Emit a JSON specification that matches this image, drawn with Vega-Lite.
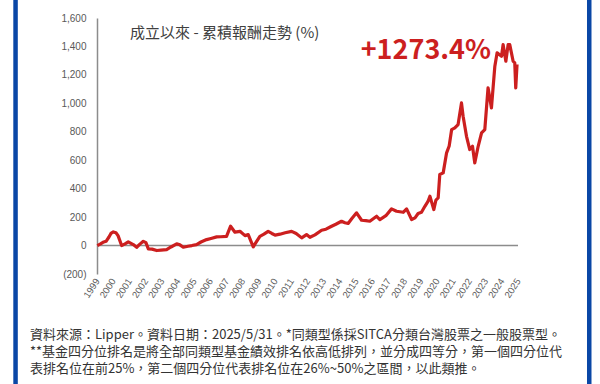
{
  "$schema": "https://vega.github.io/schema/vega-lite/v6.json",
  "width": 421,
  "height": 256,
  "autosize": "none",
  "padding": {"left": 97, "top": 18, "right": 82, "bottom": 110},
  "background": "white",
  "config": {"view": {"stroke": null}, "font": "Noto Sans CJK TC"},
  "datasets": {
    "fund": [
      {"t": 1999.02, "v": 0}, {"t": 1999.19, "v": 10}, {"t": 1999.37, "v": 23}, {"t": 1999.56, "v": 30},
      {"t": 1999.74, "v": 60}, {"t": 1999.86, "v": 85}, {"t": 2000.01, "v": 96}, {"t": 2000.17, "v": 90},
      {"t": 2000.30, "v": 70}, {"t": 2000.52, "v": 0}, {"t": 2000.73, "v": 12}, {"t": 2000.93, "v": 26},
      {"t": 2001.24, "v": 7}, {"t": 2001.45, "v": -12}, {"t": 2001.65, "v": 10}, {"t": 2001.86, "v": 30},
      {"t": 2002.02, "v": 20}, {"t": 2002.17, "v": -23}, {"t": 2002.40, "v": -25}, {"t": 2002.69, "v": -35},
      {"t": 2002.95, "v": -32}, {"t": 2003.30, "v": -28}, {"t": 2003.57, "v": -10}, {"t": 2003.92, "v": 12},
      {"t": 2004.12, "v": 5}, {"t": 2004.33, "v": -12}, {"t": 2004.62, "v": -5}, {"t": 2004.86, "v": 0},
      {"t": 2005.15, "v": 7}, {"t": 2005.42, "v": 25}, {"t": 2005.77, "v": 42}, {"t": 2006.04, "v": 50},
      {"t": 2006.39, "v": 61}, {"t": 2006.65, "v": 62}, {"t": 2007.00, "v": 65}, {"t": 2007.25, "v": 136},
      {"t": 2007.52, "v": 94}, {"t": 2007.83, "v": 100}, {"t": 2008.14, "v": 70}, {"t": 2008.34, "v": 77},
      {"t": 2008.51, "v": 30}, {"t": 2008.65, "v": -9}, {"t": 2008.81, "v": 20}, {"t": 2009.06, "v": 65},
      {"t": 2009.31, "v": 80}, {"t": 2009.57, "v": 100}, {"t": 2009.80, "v": 85}, {"t": 2010.00, "v": 73},
      {"t": 2010.30, "v": 80}, {"t": 2010.62, "v": 90}, {"t": 2011.02, "v": 100}, {"t": 2011.30, "v": 85},
      {"t": 2011.64, "v": 54}, {"t": 2011.94, "v": 77}, {"t": 2012.15, "v": 58}, {"t": 2012.46, "v": 75},
      {"t": 2012.87, "v": 108}, {"t": 2013.14, "v": 115}, {"t": 2013.49, "v": 136}, {"t": 2013.75, "v": 150},
      {"t": 2014.10, "v": 171}, {"t": 2014.31, "v": 160}, {"t": 2014.51, "v": 155}, {"t": 2014.74, "v": 190},
      {"t": 2015.03, "v": 230}, {"t": 2015.34, "v": 178}, {"t": 2015.60, "v": 175}, {"t": 2015.85, "v": 171},
      {"t": 2016.27, "v": 206}, {"t": 2016.47, "v": 183}, {"t": 2016.84, "v": 210}, {"t": 2017.19, "v": 258},
      {"t": 2017.50, "v": 241}, {"t": 2017.91, "v": 234}, {"t": 2018.12, "v": 258}, {"t": 2018.43, "v": 183},
      {"t": 2018.64, "v": 195}, {"t": 2018.83, "v": 225}, {"t": 2019.04, "v": 234}, {"t": 2019.25, "v": 276},
      {"t": 2019.44, "v": 310}, {"t": 2019.56, "v": 347}, {"t": 2019.68, "v": 300}, {"t": 2019.80, "v": 253},
      {"t": 2019.93, "v": 320}, {"t": 2020.07, "v": 335}, {"t": 2020.17, "v": 500}, {"t": 2020.38, "v": 511},
      {"t": 2020.59, "v": 652}, {"t": 2020.75, "v": 700}, {"t": 2020.90, "v": 815}, {"t": 2021.10, "v": 827},
      {"t": 2021.30, "v": 851}, {"t": 2021.51, "v": 1003}, {"t": 2021.61, "v": 909}, {"t": 2021.82, "v": 768},
      {"t": 2022.02, "v": 675}, {"t": 2022.19, "v": 698}, {"t": 2022.33, "v": 581}, {"t": 2022.54, "v": 698},
      {"t": 2022.75, "v": 792}, {"t": 2022.95, "v": 815}, {"t": 2023.15, "v": 1109}, {"t": 2023.36, "v": 968},
      {"t": 2023.57, "v": 1261}, {"t": 2023.71, "v": 1355}, {"t": 2023.98, "v": 1331}, {"t": 2024.08, "v": 1413},
      {"t": 2024.25, "v": 1296}, {"t": 2024.39, "v": 1413}, {"t": 2024.49, "v": 1413}, {"t": 2024.70, "v": 1296},
      {"t": 2024.80, "v": 1284}, {"t": 2024.86, "v": 1109}, {"t": 2024.94, "v": 1273.4}
    ],
    "notes": [
      {"t": 2001.04, "v": 1497, "label": "成立以來 - 累積報酬走勢 (%)", "kind": "title"},
      {"t": 2019.31, "v": 1371, "label": "+1273.4%", "kind": "total"},
      {"t": 1994.86, "v": -626, "label": "資料來源：Lipper。資料日期：2025/5/31。*同類型係採SITCA分類台灣股票之一般股票型。", "kind": "note"},
      {"t": 1994.86, "v": -745, "label": "**基金四分位排名是將全部同類型基金績效排名依高低排列，並分成四等分，第一個四分位代", "kind": "note"},
      {"t": 1994.86, "v": -865, "label": "表排名位在前25%，第二個四分位代表排名位在26%~50%之區間，以此類推。", "kind": "note"}
    ],
    "frame": [{"t": 1993.97, "v": 1727, "v2": -975}, {"t": 2029.4, "v": 1727, "v2": -975}],
    "zero": [{"t": 1999, "t2": 2025, "v": 0}]
  },
  "encoding": {
    "x": {
      "field": "t", "type": "quantitative",
      "scale": {"domain": [1999, 2025], "nice": false, "zero": false},
      "axis": {
        "title": null, "domain": false, "ticks": false, "grid": false,
        "values": [1999,2000,2001,2002,2003,2004,2005,2006,2007,2008,2009,2010,2011,2012,2013,2014,2015,2016,2017,2018,2019,2020,2021,2022,2023,2024,2025],
        "labelExpr": "'' + datum.value",
        "labelAngle": -57, "labelAlign": "right", "labelBaseline": "middle",
        "labelFontSize": 9.5, "labelColor": "#595959", "labelFont": "Liberation Sans",
        "labelPadding": 5, "labelOverlap": false, "labelFlush": false, "labelBound": false
      }
    },
    "y": {
      "field": "v", "type": "quantitative",
      "scale": {"domain": [-200, 1600], "nice": false},
      "axis": {
        "title": null, "ticks": false, "grid": false,
        "values": [-200,0,200,400,600,800,1000,1200,1400,1600],
        "labelExpr": "datum.value < 0 ? '(' + format(-datum.value, ',') + ')' : format(datum.value, ',')",
        "labelFontSize": 10, "labelColor": "#595959", "labelFont": "Liberation Sans",
        "labelPadding": 11, "labelOverlap": false, "labelFlush": false, "labelBound": false,
        "domainColor": "#8c8c8c", "domainWidth": 1.5
      }
    }
  },
  "layer": [
    {
      "data": {"name": "frame"},
      "mark": {"type": "rule", "color": "#0a47a6", "strokeWidth": 4.5, "clip": false},
      "encoding": {"y2": {"field": "v2"}}
    },
    {
      "data": {"name": "zero"},
      "mark": {"type": "rule", "color": "#8c8c8c", "strokeWidth": 1.5},
      "encoding": {"x2": {"field": "t2"}}
    },
    {
      "data": {"name": "fund"},
      "mark": {"type": "line", "color": "#cc1f1f", "strokeWidth": 3.2, "strokeJoin": "round"}
    },
    {
      "data": {"name": "notes"},
      "transform": [{"filter": "datum.kind == 'title'"}],
      "mark": {"type": "text", "align": "left", "baseline": "middle", "fontSize": 15, "color": "#404040", "font": "Noto Sans CJK TC"},
      "encoding": {"text": {"field": "label"}}
    },
    {
      "data": {"name": "notes"},
      "transform": [{"filter": "datum.kind == 'note'"}],
      "mark": {"type": "text", "align": "left", "baseline": "middle", "fontSize": 13, "color": "#333333", "font": "Noto Sans CJK TC", "clip": false},
      "encoding": {"text": {"field": "label"}}
    },
    {
      "data": {"name": "notes"},
      "transform": [{"filter": "datum.kind == 'total'"}],
      "mark": {"type": "text", "align": "center", "baseline": "middle", "fontSize": 27, "fontWeight": "bold", "color": "#cc1f1f", "font": "Noto Sans CJK TC"},
      "encoding": {"text": {"field": "label"}}
    }
  ]
}
